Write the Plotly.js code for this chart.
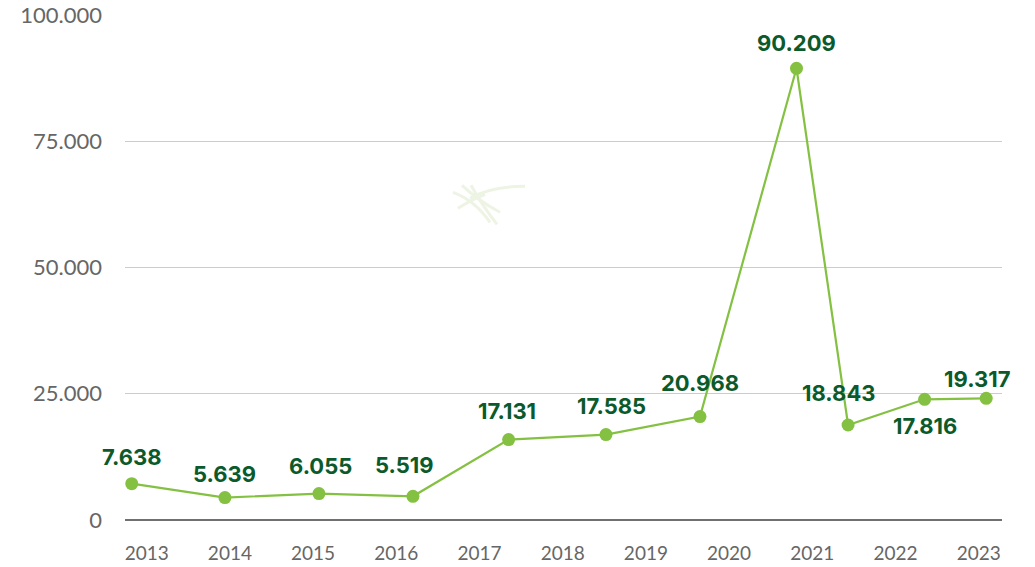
<!DOCTYPE html>
<html>
<head>
<meta charset="utf-8">
<script src="https://cdn.plot.ly/plotly-3.0.1.min.js"></script>
<style>
  html, body { margin: 0; padding: 0; background: #ffffff; }
  #chart { width: 1035px; height: 567px; }
</style>
</head>
<body>
<div id="chart"></div>
<script>
// years shown on the x axis
const years = [2013, 2014, 2015, 2016, 2017, 2018, 2019, 2020, 2021, 2022, 2023];

// where each marker sits along the year axis
const pointYears = [2012.82, 2013.94, 2015.07, 2016.2, 2017.35, 2018.52, 2019.65, 2020.81, 2021.43, 2022.35, 2023.09];

// marker heights as drawn
const pointValues = [7200, 4440, 5230, 4690, 15920, 16910, 20480, 89450, 18810, 23900, 24100];

// printed value labels
const labelTexts = ['7.638', '5.639', '6.055', '5.519', '17.131', '17.585', '20.968', '90.209', '18.843', '17.816', '19.317'];

const yTicks = [0, 25000, 50000, 75000, 100000];

const GREEN = '#84c142';
const DARK_GREEN = '#0b5a2b';
const TICK_FONT = 'Lato, "Open Sans", sans-serif';
const LABEL_FONT = 'Inter, Lato, sans-serif';

// label offsets from their marker, in pixels
const labelShiftX = [0, 0, 2, -8, -2, 6, 0, 0, -10, 0, -9];
const labelShiftY = [27, 24, 28, 31, 29, 29, 34, 25, 32, -27, 19];

const trace = {
  type: 'scatter',
  mode: 'lines+markers',
  x: pointYears,
  y: pointValues,
  line: { color: GREEN, width: 2.2 },
  marker: { color: GREEN, size: 13 },
  hoverinfo: 'skip',
  cliponaxis: false,
};

const annotations = labelTexts.map((text, i) => ({
  x: pointYears[i],
  y: pointValues[i],
  xref: 'x',
  yref: 'y',
  text,
  showarrow: false,
  xanchor: 'center',
  yanchor: 'middle',
  xshift: labelShiftX[i],
  yshift: labelShiftY[i],
  font: { family: LABEL_FONT, size: 22, color: DARK_GREEN, weight: 700 },
}));

// faint watermark sprig behind the plot
function px(x, y) {
  return [((x - 125) / 877).toFixed(4), ((519.7 - y) / 505).toFixed(4)];
}
function curve(a, c, b) {
  const p0 = px(a[0], a[1]);
  const p1 = px(c[0], c[1]);
  const p2 = px(b[0], b[1]);
  return `M ${p0[0]} ${p0[1]} Q ${p1[0]} ${p1[1]} ${p2[0]} ${p2[1]}`;
}
const sprigPaths = [
  curve([470, 198], [490, 186], [525, 186]),
  curve([453, 192], [475, 200], [490, 222]),
  curve([462, 185], [478, 200], [500, 212]),
  curve([471, 185], [482, 205], [497, 224]),
  curve([458, 208], [470, 200], [485, 194]),
];
const shapes = sprigPaths.map((path) => ({
  type: 'path',
  xref: 'paper',
  yref: 'paper',
  path,
  line: { color: '#eef4e4', width: 3 },
  layer: 'below',
}));

const layout = {
  width: 1035,
  height: 567,
  paper_bgcolor: '#ffffff',
  plot_bgcolor: '#ffffff',
  margin: { l: 125, r: 33, t: 15, b: 47, pad: 0 },
  separators: ',.',
  showlegend: false,
  font: { family: TICK_FONT, color: '#666666' },
  xaxis: {
    type: 'linear',
    range: [2012.739, 2023.28],
    tickvals: years,
    ticktext: years.map(String),
    showgrid: false,
    zeroline: false,
    showline: false,
    ticks: '',
    ticklabelstandoff: 20,
    tickfont: { family: TICK_FONT, size: 19, color: '#666666' },
    fixedrange: true,
  },
  yaxis: {
    range: [0, 100000],
    tickvals: yTicks,
    tickformat: ',d',
    showgrid: true,
    gridcolor: '#cccccc',
    gridwidth: 1,
    zeroline: true,
    zerolinecolor: '#707070',
    zerolinewidth: 1.2,
    showline: false,
    ticks: '',
    ticklabelstandoff: 22,
    tickfont: { family: TICK_FONT, size: 22, color: '#666666' },
    fixedrange: true,
  },
  annotations,
  shapes,
};

Plotly.newPlot('chart', [trace], layout, { displayModeBar: false, staticPlot: true });
</script>
</body>
</html>
